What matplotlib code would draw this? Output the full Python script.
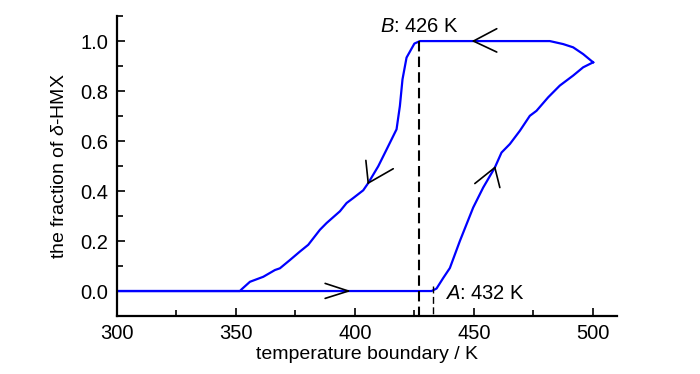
import matplotlib
matplotlib.use("Agg")
import matplotlib.pyplot as plt
from matplotlib.ticker import MultipleLocator

plt.rcParams['font.family'] = ['Liberation Sans', 'DejaVu Sans']
plt.rcParams['mathtext.fontset'] = 'custom'
plt.rcParams['mathtext.it'] = 'Liberation Sans:italic'
plt.rcParams['mathtext.rm'] = 'Liberation Sans'

# heating branch: flat at 0, rises after A (432 K), up to 500 K
heat_T = [300, 427, 432.2, 434.3, 437.1, 439.9, 444.1, 449.7, 453.9, 458.8, 461.6,
          465.1, 469.3, 473.5, 476.3, 481.2, 486.1, 491.7, 495.9, 500.1]
heat_f = [0, 0, 0, 0.01, 0.052, 0.092, 0.2, 0.334, 0.414, 0.494, 0.554,
          0.588, 0.641, 0.701, 0.721, 0.775, 0.822, 0.862, 0.895, 0.915]

# cooling branch: from 500 K back down to 300 K
cool_T = [500.1, 495.9, 491.7, 487.5, 481.9, 427.3, 425.0, 421.7, 420.0, 418.9, 417.5,
          416.1, 413.3, 409.8, 405.6, 403.5, 399.3, 396.5, 393.7, 388.1, 385.3,
          380.4, 376.9, 372.7, 368.5, 366.4, 361.5, 355.9, 352.4, 351.7, 300]
cool_f = [0.915, 0.948, 0.975, 0.988, 1.0, 1.0, 0.99, 0.934, 0.847, 0.74, 0.647,
          0.62, 0.566, 0.499, 0.432, 0.403, 0.372, 0.352, 0.319, 0.272, 0.245,
          0.185, 0.158, 0.124, 0.091, 0.084, 0.057, 0.037, 0.007, 0, 0]

T_B = 427
T_A = 433

# direction chevrons: tip (T, f) and two arm ends in offset points
arrows = [
    (397.3, 0.0, (-16.8, 5.5), (-16.8, -5.3)),
    (449.8, 1.0, (16.8, 8.9), (16.8, -7.9)),
    (405.6, 0.432, (-1.7, 16.3), (18.0, 10.3)),
    (458.8, 0.494, (-14.4, -11.5), (3.6, -14.4)),
]

fig = plt.figure(figsize=(7, 3.74), dpi=100)
ax = fig.add_axes([0.167, 0.155, 0.714, 0.802])

ax.plot(heat_T, heat_f, color='#0000ff', lw=1.6)
ax.plot(cool_T, cool_f, color='#0000ff', lw=1.6)

ax.plot([T_B, T_B], [1.0, -0.1], color='black', lw=1.5, dashes=(5, 2.5))
ax.plot([T_A, T_A], [0.02, -0.1], color='black', lw=1.0, dashes=(5, 2.5))

for x, y, a1, a2 in arrows:
    for arm in (a1, a2):
        ax.annotate('', xy=(x, y), xytext=arm, textcoords='offset points',
                    arrowprops=dict(arrowstyle='-', color='black', lw=1.2,
                                    shrinkA=0, shrinkB=0))

ax.text(T_B, 1.02, '$\\it{B}$: 426 K', ha='center', va='bottom', fontsize=14.5)
ax.text(437.8, -0.01, '$\\it{A}$: 432 K', ha='left', va='center', fontsize=14.5)

ax.set_xlim(300, 510)
ax.set_ylim(-0.1, 1.1)
ax.xaxis.set_major_locator(MultipleLocator(50))
ax.xaxis.set_minor_locator(MultipleLocator(25))
ax.yaxis.set_major_locator(MultipleLocator(0.2))
ax.yaxis.set_minor_locator(MultipleLocator(0.1))
ax.yaxis.set_major_formatter(plt.FormatStrFormatter('%.1f'))

for s in ['top', 'right']:
    ax.spines[s].set_visible(False)
for s in ['left', 'bottom']:
    ax.spines[s].set_linewidth(1.6)

ax.tick_params(which='major', direction='in', length=6, width=1.2, labelsize=14.5, pad=6)
ax.tick_params(which='minor', direction='in', length=4, width=1.2)

ax.set_xlabel('temperature boundary / K', fontsize=14, labelpad=2)
ax.set_ylabel('the fraction of $\\delta$-HMX', fontsize=14, labelpad=9)

fig.savefig('out.png', dpi=100)
